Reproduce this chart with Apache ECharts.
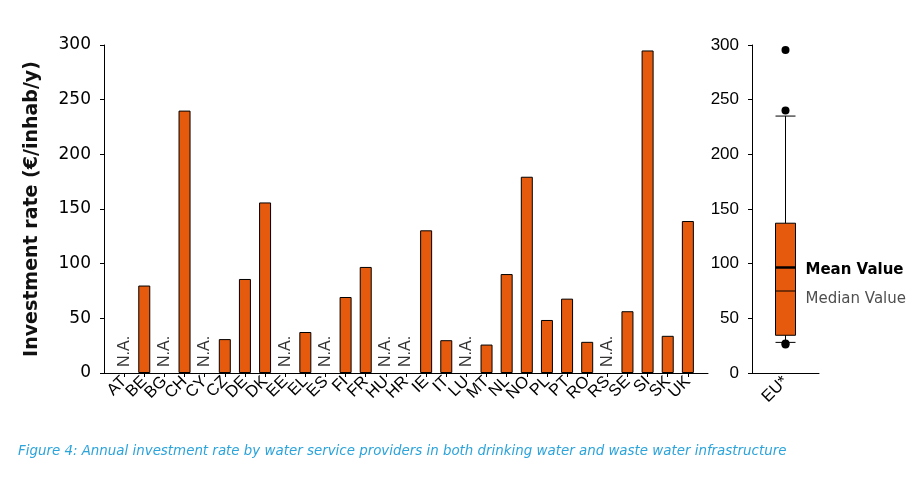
<!DOCTYPE html>
<html>
<head>
<meta charset="utf-8">
<script src="https://cdn.jsdelivr.net/npm/echarts@6/dist/echarts.min.js"></script>
<style>
  html, body { margin: 0; padding: 0; background: #ffffff; }
  #chart { width: 917px; height: 484px; }
</style>
</head>
<body>
<div id="chart"></div>
<script>
// 各国投资率 (€/inhab/y)，null = N.A.
var countries = ['AT', 'BE', 'BG', 'CH', 'CY', 'CZ', 'DE', 'DK', 'EE', 'EL', 'ES', 'FI', 'FR', 'HU', 'HR',
    'IE', 'IT', 'LU', 'MT', 'NL', 'NO', 'PL', 'PT', 'RO', 'RS', 'SE', 'SI', 'SK', 'UK'];
var investment = [null, 80, null, 240, null, 31, 86, 156, null, 37.5, null, 69.5, 97, null, null,
    130.5, 30, null, 26, 90.5, 179.5, 48.5, 68, 28.5, null, 56.5, 295, 34, 139];

// EU* 箱线图: [min, Q1, median, Q3, max]
var boxCategory = ['EU*'];
var boxStats = [28, 34.5, 75, 137, 235];
var boxMean = 96.5;
var boxOutliers = [295.5, 240, 27, 26];

var yTicks = { min: 0, max: 300, interval: 50 };
var caption = 'Figure 4: Annual investment rate by water service providers in both drinking water and waste water infrastructure';

var barColor = '#E65A0E';

// 两端留空类目，让轴线比第一/最后一根柱子更长
var axisCats = [''].concat(countries, ['']);
var barData = [null].concat(investment, [null]);
var naData = [null].concat(investment.map(function(v) { return v === null ? 0 : null; }), [null]);

var chart = echarts.init(document.getElementById('chart'));

var yAxisBase = {
    type: 'value',
    min: yTicks.min,
    max: yTicks.max,
    interval: yTicks.interval,
    axisLine: { show: true, lineStyle: { color: '#000', width: 1 } },
    axisTick: { show: true, length: 4, lineStyle: { color: '#000' } },
    splitLine: { show: false }
};

var option = {
    backgroundColor: '#ffffff',
    animation: false,
    title: {
        text: caption,
        left: 18,
        top: 445,
        padding: 0,
        textStyle: {
            fontFamily: 'DejaVu Sans',
            fontStyle: 'italic',
            fontWeight: 'normal',
            fontSize: 13.4,
            color: '#2BA3DB'
        }
    },
    grid: [
        { left: 104, right: 209, top: 45, bottom: 111 },
        { left: 752, right: 98, top: 45, bottom: 111 }
    ],
    xAxis: [{
        type: 'category',
        gridIndex: 0,
        data: axisCats,
        boundaryGap: false,
        axisLine: { lineStyle: { color: '#000', width: 1 } },
        axisTick: {
            length: 4,
            lineStyle: { color: '#000' },
            interval: function(idx) { return idx > 0 && idx < axisCats.length - 1; }
        },
        axisLabel: {
            interval: 0,
            rotate: 45,
            margin: 6,
            color: '#000',
            fontFamily: 'Liberation Sans',
            fontSize: 16.5
        }
    }, {
        type: 'category',
        gridIndex: 1,
        data: boxCategory,
        axisLine: { lineStyle: { color: '#000', width: 1 } },
        axisTick: { length: 4, alignWithLabel: true, lineStyle: { color: '#000' } },
        axisLabel: {
            rotate: 45,
            margin: 6,
            color: '#000',
            fontFamily: 'Liberation Sans',
            fontSize: 16.5
        }
    }],
    yAxis: [
        Object.assign({}, yAxisBase, {
            gridIndex: 0,
            name: 'Investment rate (€/inhab/y)',
            nameLocation: 'middle',
            nameGap: 62,
            nameTextStyle: {
                fontFamily: 'DejaVu Sans',
                fontWeight: 'bold',
                fontSize: 19,
                color: '#111'
            },
            axisLabel: { color: '#000', fontFamily: 'DejaVu Sans', fontSize: 17, margin: 13 }
        }),
        Object.assign({}, yAxisBase, {
            gridIndex: 1,
            axisLabel: { color: '#000', fontFamily: 'Liberation Sans', fontSize: 17, margin: 13 }
        })
    ],
    series: [{
        type: 'bar',
        xAxisIndex: 0,
        yAxisIndex: 0,
        data: barData,
        barWidth: 12,
        itemStyle: { color: barColor, borderColor: '#000', borderWidth: 1 }
    }, {
        // N.A. 竖排标签
        type: 'scatter',
        xAxisIndex: 0,
        yAxisIndex: 0,
        data: naData,
        symbolSize: 0,
        label: {
            show: true,
            formatter: 'N.A.',
            position: 'top',
            distance: 8,
            rotate: 90,
            align: 'left',
            verticalAlign: 'middle',
            offset: [-2, 0],
            color: '#000',
            fontFamily: 'Liberation Sans',
            fontSize: 16
        }
    }, {
        type: 'boxplot',
        xAxisIndex: 1,
        yAxisIndex: 1,
        data: [boxStats],
        boxWidth: [20, 20],
        itemStyle: { color: barColor, borderColor: '#000', borderWidth: 1 }
    }, {
        // 均值线
        type: 'scatter',
        xAxisIndex: 1,
        yAxisIndex: 1,
        data: [boxMean],
        symbol: 'rect',
        symbolSize: [20, 2.5],
        itemStyle: { color: '#000', opacity: 1 },
        label: {
            show: true,
            formatter: 'Mean Value',
            position: 'right',
            distance: 10,
            offset: [0, 3],
            color: '#000',
            fontFamily: 'DejaVu Sans',
            fontWeight: 'bold',
            fontSize: 15
        },
        z: 5
    }, {
        // 中位数标注
        type: 'scatter',
        xAxisIndex: 1,
        yAxisIndex: 1,
        data: [boxStats[2]],
        symbolSize: [20, 0],
        itemStyle: { color: 'transparent' },
        label: {
            show: true,
            formatter: 'Median Value',
            position: 'right',
            distance: 10,
            offset: [0, 8],
            color: '#222',
            fontFamily: 'DejaVu Sans',
            fontSize: 15
        }
    }, {
        type: 'scatter',
        xAxisIndex: 1,
        yAxisIndex: 1,
        data: boxOutliers,
        symbol: 'circle',
        symbolSize: 8,
        itemStyle: { color: '#000', opacity: 1 },
        z: 6
    }]
};

chart.setOption(option);
</script>
</body>
</html>
